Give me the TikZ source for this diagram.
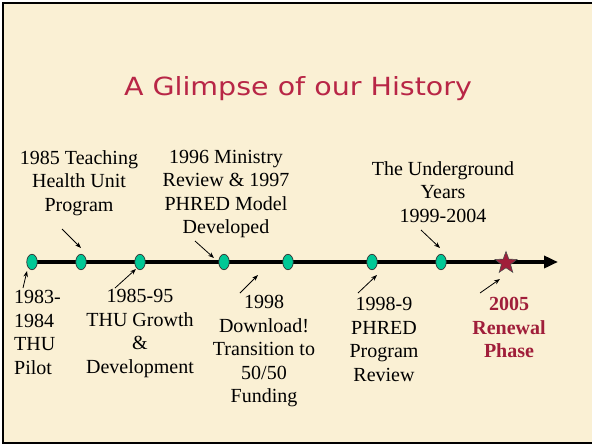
\documentclass[tikz,border=0pt]{standalone}
\usepackage{fontspec}
\setmainfont{Liberation Serif}
\newfontfamily\titlefont[FakeStretch=1.14]{DejaVu Sans}
\usetikzlibrary{arrows.meta,shapes.geometric}
\definecolor{bgcream}{RGB}{250,240,212}
\definecolor{titlered}{RGB}{184,38,70}
\definecolor{renewred}{RGB}{160,30,58}
\definecolor{dotteal}{RGB}{0,200,150}
\tikzset{
  lbl/.style={inner sep=0pt, font=\fontsize{20}{23.5}\selectfont, align=center, anchor=north},
  dotnode/.style={ellipse, draw=black!80, line width=0.7pt, fill=dotteal, minimum width=10.5pt, minimum height=15.5pt, inner sep=0pt},
  ptr/.style={line width=0.8pt, -{Stealth[length=6pt,width=4.5pt]}},
}
\begin{document}
\begin{tikzpicture}[x=1pt,y=-1pt]
\useasboundingbox (0,0) rectangle (592,445);
\fill[white] (0,0) rectangle (592,445);
\draw[line width=2pt, fill=bgcream] (3,3) rectangle (596,443);

\node[inner sep=0pt, text=titlered, font=\titlefont\fontsize{25}{28}\selectfont] (title) at (298,89) {A Glimpse of our History};

% timeline
\coordinate (tstart) at (32,262);
\coordinate (tend) at (558,262);
\draw[line width=4pt, -{Triangle[length=14pt,width=12pt]}] (tstart) -- (tend);

\node[dotnode] (d1) at (32,262) {};
\node[dotnode] (d2) at (81,262) {};
\node[dotnode] (d3) at (140,262) {};
\node[dotnode] (d4) at (224,262) {};
\node[dotnode] (d5) at (288,262) {};
\node[dotnode] (d6) at (372,262) {};
\node[dotnode] (d7) at (441,262) {};
\node[star, star points=5, star point ratio=2.4, minimum size=23pt, inner sep=0pt, fill=renewred, draw=black!70, line width=0.6pt] (st) at (506,263) {};

% labels above
\node[lbl] (l1) at (79,150) {1985 Teaching\\Health Unit\\Program};
\node[lbl] (l2) at (226,150) {1996 Ministry\\Review \& 1997\\PHRED Model\\Developed};
\node[lbl] (l3) at (443,161) {The Underground\\Years\\1999-2004};

% labels below
\node[lbl, align=left, anchor=north west] (b1) at (14,290) {1983-\\1984\\THU\\Pilot};
\node[lbl] (b2) at (140,289) {1985-95\\THU Growth\\\&\\Development};
\node[lbl] (b3) at (264,295) {1998\\Download!\\Transition to\\50/50\\Funding};
\node[lbl] (b4) at (384,297) {1998-9\\PHRED\\Program\\Review};
\node[lbl, text=renewred, font=\bfseries\fontsize{20}{23.5}\selectfont] (b5) at (509,297) {2005\\Renewal\\Phase};

% pointer arrows
\coordinate (a1s) at (62,229);  \coordinate (a1e) at (81,248);
\coordinate (a2s) at (195,241); \coordinate (a2e) at (214,258);
\coordinate (a3s) at (421,230); \coordinate (a3e) at (440,248);
\coordinate (a4s) at (23,288);  \coordinate (a4e) at (27,271);
\coordinate (a5s) at (115,288); \coordinate (a5e) at (136,269);
\coordinate (a6s) at (240,293); \coordinate (a6e) at (258,275);
\coordinate (a7s) at (358,293); \coordinate (a7e) at (377,275);
\coordinate (a8s) at (480,293); \coordinate (a8e) at (500,279);
\draw[ptr] (a1s) -- (a1e);
\draw[ptr] (a2s) -- (a2e);
\draw[ptr] (a3s) -- (a3e);
\draw[ptr] (a4s) -- (a4e);
\draw[ptr] (a5s) -- (a5e);
\draw[ptr] (a6s) -- (a6e);
\draw[ptr] (a7s) -- (a7e);
\draw[ptr] (a8s) -- (a8e);
\end{tikzpicture}
\end{document}
